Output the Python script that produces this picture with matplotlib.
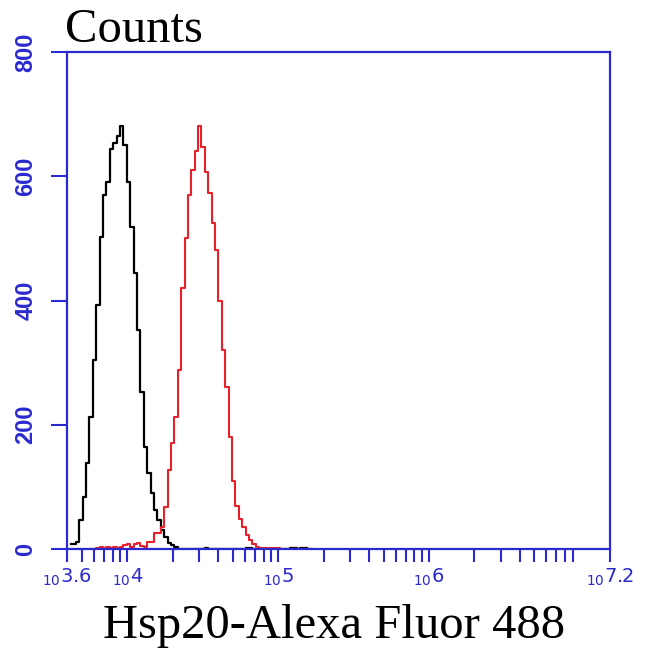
import numpy as np
import matplotlib
matplotlib.use("Agg")
import matplotlib.pyplot as plt
from matplotlib.ticker import FixedLocator, LogLocator, NullFormatter

# Histogram channel grid (log10 of fluorescence intensity)
bin_start_log = 3.614
bin_width_log = 0.0225

# Counts per channel
black_counts = [8, 8, 11, 47, 84, 138, 213, 304, 393, 502,
                570, 591, 644, 653, 665, 681, 650, 590, 518, 444,
                352, 253, 164, 122, 90, 63, 47, 31, 20, 10,
                6, 3, 0, 0, 0, 0, 0, 0, 0, 0,
                2, 0, 0, 0, 0, 0, 0, 0, 0, 0,
                0, 0, 1, 1, 0, 0, 0, 0, 0, 0,
                0, 0, 0, 0, 0, 2, 2, 0, 2, 2,
                0, 0]
red_counts = [0, 0, 0, 0, 0, 0, 0, 0, 2, 3,
              2, 3, 2, 3, 2, 3, 6, 8, 4, 8,
              9, 5, 3, 11, 11, 26, 26, 35, 68, 127,
              171, 213, 288, 420, 500, 570, 610, 640, 681, 647,
              607, 573, 525, 481, 400, 320, 261, 180, 110, 70,
              48, 35, 22, 14, 8, 3, 2, 2, 1, 2,
              2, 1, 0, 0, 0, 0, 0, 0, 0, 0,
              0, 0]

y_ticks = [0, 200, 400, 600, 800]
x_major_exp = [3.6, 4, 5, 6, 7.2]
x_major_labels = [r"${}_{10}3.6$", r"${}_{10}4$", r"${}_{10}5$", r"${}_{10}6$", r"${}_{10}7.2$"]
x_label = "Hsp20-Alexa Fluor 488"
y_label = "Counts"

blue = "#2a2ad0"

fig = plt.figure(figsize=(6.5, 6.5), dpi=100)
ax = fig.add_axes([67/650, 101/650, 543/650, 497/650])

centers = bin_start_log + bin_width_log * (np.arange(len(black_counts)) + 0.5)
x_vals = 10 ** centers
ax.plot(x_vals, black_counts, drawstyle="steps-mid", color="black", lw=1.6)
ax.plot(x_vals, red_counts, drawstyle="steps-mid", color="#e8202a", lw=1.5)

ax.set_xscale("log")
ax.set_xlim(10 ** 3.6, 10 ** 7.2)
ax.set_ylim(0, 800)

for s in ax.spines.values():
    s.set_color(blue)
    s.set_linewidth(1.6)

ax.set_yticks(y_ticks)
ax.set_yticklabels([str(v) for v in y_ticks], rotation=90, va="center",
                   color=blue, fontsize=17, fontfamily="Liberation Sans",
                   fontweight="bold")
ax.tick_params(axis="y", direction="out", length=11.5, width=1.5, color=blue, pad=10)

ax.xaxis.set_major_locator(FixedLocator([10 ** e for e in x_major_exp]))
ax.set_xticklabels(x_major_labels, color=blue, fontsize=14)
ax.xaxis.set_minor_locator(LogLocator(base=10, subs=np.arange(2, 10)))
ax.xaxis.set_minor_formatter(NullFormatter())
ax.tick_params(axis="x", which="both", direction="out", length=9.5, width=1.5,
               color=blue, pad=3)
ax.tick_params(top=False, right=False)

fig.text(65/650, 1 - 42/650, y_label, fontsize=35, fontfamily="Liberation Serif",
         ha="left", va="baseline")
fig.text(334/650, 12/650, x_label, fontsize=35, fontfamily="Liberation Serif",
         ha="center", va="baseline")

fig.savefig("out.png", dpi=100, facecolor="white")
